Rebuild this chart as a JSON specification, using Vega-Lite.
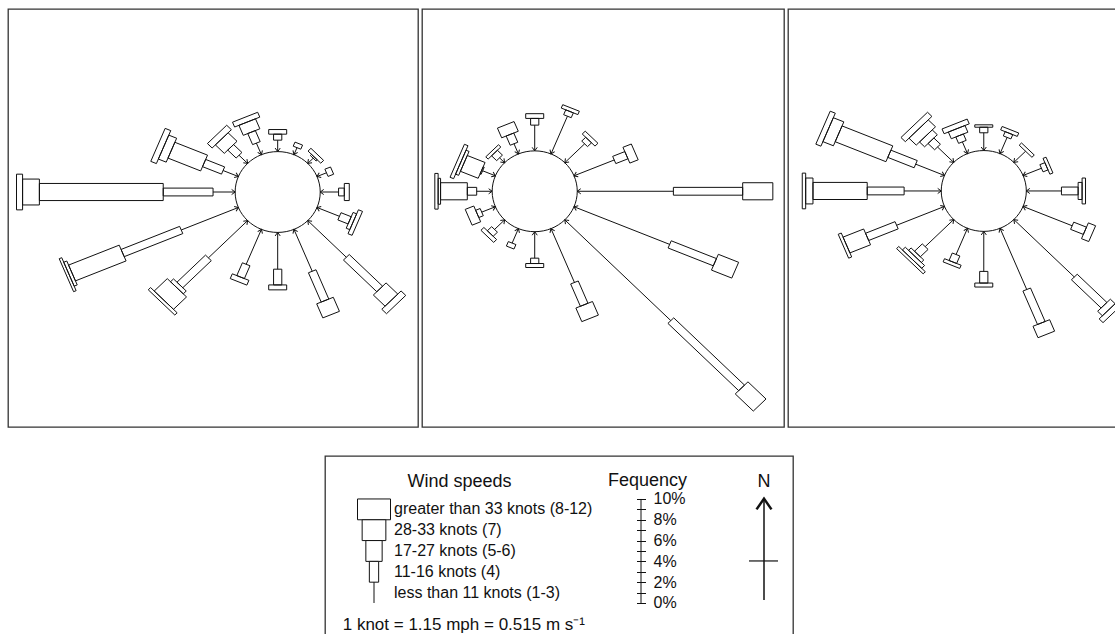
{
  "$schema": "https://vega.github.io/schema/vega-lite/v6.json",
  "padding": {"left": 7, "top": 8, "right": 0, "bottom": 0},
  "config": {"view": {"stroke": "#333", "strokeWidth": 1.3}, "font": "Liberation Sans", "text": {"font": "Liberation Sans", "color": "black"}},
  "datasets": {
    "arms": [
      {"p":1,"d":0,"c":1,"f":1.09},{"p":1,"d":0,"c":2,"f":0.57},{"p":1,"d":0,"c":3,"f":0.44},
      {"p":1,"d":1,"c":1,"f":0.72},{"p":1,"d":1,"c":2,"f":0.42},
      {"p":1,"d":2,"c":1,"f":0.7},{"p":1,"d":2,"c":2,"f":0.15},{"p":1,"d":2,"c":3,"f":0.37},
      {"p":1,"d":3,"c":1,"f":0.93},{"p":1,"d":3,"c":2,"f":0.55},
      {"p":1,"d":4,"c":1,"f":1.66},{"p":1,"d":4,"c":2,"f":0.52},{"p":1,"d":4,"c":3,"f":0.45},
      {"p":1,"d":5,"c":1,"f":2.2},{"p":1,"d":5,"c":2,"f":1.0},{"p":1,"d":5,"c":3,"f":0.35},{"p":1,"d":5,"c":4,"f":0.4},
      {"p":1,"d":6,"c":1,"f":4.94},{"p":1,"d":6,"c":2,"f":4.27},{"p":1,"d":6,"c":3,"f":1.5},{"p":1,"d":6,"c":4,"f":0.6},
      {"p":1,"d":7,"c":1,"f":4.32},{"p":1,"d":7,"c":2,"f":3.02},{"p":1,"d":7,"c":3,"f":1.45},
      {"p":1,"d":8,"c":1,"f":3.5},{"p":1,"d":8,"c":2,"f":1.5},{"p":1,"d":8,"c":3,"f":0.47},
      {"p":1,"d":9,"c":1,"f":3.6},{"p":1,"d":9,"c":2,"f":1.32},{"p":1,"d":9,"c":3,"f":0.49},
      {"p":1,"d":10,"c":1,"f":5.02},{"p":1,"d":10,"c":2,"f":3.65},{"p":1,"d":10,"c":3,"f":0.38},{"p":1,"d":10,"c":4,"f":1.67},{"p":1,"d":10,"c":5,"f":0.3},
      {"p":1,"d":11,"c":1,"f":5.6},{"p":1,"d":11,"c":2,"f":5.74},{"p":1,"d":11,"c":3,"f":4.96},{"p":1,"d":11,"c":4,"f":0.3},{"p":1,"d":11,"c":5,"f":0.25},
      {"p":1,"d":12,"c":1,"f":2.0},{"p":1,"d":12,"c":2,"f":4.51},{"p":1,"d":12,"c":3,"f":11.21},{"p":1,"d":12,"c":4,"f":1.52},{"p":1,"d":12,"c":5,"f":0.55},
      {"p":1,"d":13,"c":1,"f":1.5},{"p":1,"d":13,"c":2,"f":1.86},{"p":1,"d":13,"c":3,"f":3.2},{"p":1,"d":13,"c":4,"f":0.77},{"p":1,"d":13,"c":5,"f":0.55},
      {"p":1,"d":14,"c":1,"f":1.1},{"p":1,"d":14,"c":2,"f":1.07},{"p":1,"d":14,"c":3,"f":1.14},{"p":1,"d":14,"c":4,"f":0.6},
      {"p":1,"d":15,"c":1,"f":1.19},{"p":1,"d":15,"c":2,"f":1.14},{"p":1,"d":15,"c":3,"f":1.03},{"p":1,"d":15,"c":4,"f":0.5},

      {"p":2,"d":0,"c":1,"f":2.45},{"p":2,"d":0,"c":2,"f":0.64},{"p":2,"d":0,"c":3,"f":0.45},
      {"p":2,"d":1,"c":1,"f":3.89},{"p":2,"d":1,"c":2,"f":0.5},{"p":2,"d":1,"c":3,"f":0.35},
      {"p":2,"d":2,"c":1,"f":2.54},{"p":2,"d":2,"c":2,"f":0.51},{"p":2,"d":2,"c":3,"f":0.38},
      {"p":2,"d":3,"c":1,"f":3.94},{"p":2,"d":3,"c":2,"f":1.19},{"p":2,"d":3,"c":3,"f":0.82},
      {"p":2,"d":4,"c":1,"f":8.7},{"p":2,"d":4,"c":2,"f":6.27},{"p":2,"d":4,"c":3,"f":2.73},
      {"p":2,"d":5,"c":1,"f":9.37},{"p":2,"d":5,"c":2,"f":4.43},{"p":2,"d":5,"c":3,"f":1.99},
      {"p":2,"d":6,"c":1,"f":13.57},{"p":2,"d":6,"c":2,"f":9.06},{"p":2,"d":6,"c":3,"f":2.31},
      {"p":2,"d":7,"c":1,"f":5.55},{"p":2,"d":7,"c":2,"f":2.3},{"p":2,"d":7,"c":3,"f":1.4},
      {"p":2,"d":8,"c":1,"f":2.52},{"p":2,"d":8,"c":2,"f":0.51},{"p":2,"d":8,"c":3,"f":0.38},
      {"p":2,"d":9,"c":1,"f":1.49},{"p":2,"d":9,"c":2,"f":0.46},
      {"p":2,"d":10,"c":1,"f":1.29},{"p":2,"d":10,"c":2,"f":0.55},{"p":2,"d":10,"c":3,"f":0.38},
      {"p":2,"d":11,"c":1,"f":1.34},{"p":2,"d":11,"c":2,"f":0.44},{"p":2,"d":11,"c":3,"f":0.84},
      {"p":2,"d":12,"c":1,"f":1.4},{"p":2,"d":12,"c":2,"f":0.85},{"p":2,"d":12,"c":3,"f":2.42},{"p":2,"d":12,"c":4,"f":0.22},{"p":2,"d":12,"c":5,"f":0.3},
      {"p":2,"d":13,"c":1,"f":1.25},{"p":2,"d":13,"c":2,"f":0.1},{"p":2,"d":13,"c":3,"f":1.74},{"p":2,"d":13,"c":4,"f":0.3},{"p":2,"d":13,"c":5,"f":0.35},
      {"p":2,"d":14,"c":1,"f":0.65},{"p":2,"d":14,"c":2,"f":0.65},{"p":2,"d":14,"c":3,"f":0.3},
      {"p":2,"d":15,"c":1,"f":1.05},{"p":2,"d":15,"c":2,"f":0.95},{"p":2,"d":15,"c":3,"f":1.0},

      {"p":3,"d":0,"c":1,"f":1.69},{"p":3,"d":0,"c":2,"f":0.53},{"p":3,"d":0,"c":3,"f":0.23},
      {"p":3,"d":1,"c":1,"f":1.67},{"p":3,"d":1,"c":2,"f":0.44},{"p":3,"d":1,"c":3,"f":0.35},
      {"p":3,"d":2,"c":1,"f":1.5},{"p":3,"d":2,"c":3,"f":0.3},
      {"p":3,"d":3,"c":1,"f":1.8},{"p":3,"d":3,"c":2,"f":0.49},{"p":3,"d":3,"c":3,"f":0.3},
      {"p":3,"d":4,"c":1,"f":3.18},{"p":3,"d":4,"c":2,"f":1.51},{"p":3,"d":4,"c":3,"f":0.36},{"p":3,"d":4,"c":4,"f":0.31},
      {"p":3,"d":5,"c":1,"f":4.81},{"p":3,"d":5,"c":2,"f":1.25},{"p":3,"d":5,"c":3,"f":0.71},
      {"p":3,"d":6,"c":1,"f":7.74},{"p":3,"d":6,"c":2,"f":3.8},{"p":3,"d":6,"c":3,"f":0.61},{"p":3,"d":6,"c":4,"f":0.5},
      {"p":3,"d":7,"c":1,"f":6.31},{"p":3,"d":7,"c":2,"f":3.45},{"p":3,"d":7,"c":3,"f":1.18},
      {"p":3,"d":8,"c":1,"f":3.81},{"p":3,"d":8,"c":2,"f":1.11},{"p":3,"d":8,"c":3,"f":0.38},
      {"p":3,"d":9,"c":1,"f":2.7},{"p":3,"d":9,"c":2,"f":0.77},{"p":3,"d":9,"c":3,"f":0.33},
      {"p":3,"d":10,"c":1,"f":3.65},{"p":3,"d":10,"c":2,"f":0.99},{"p":3,"d":10,"c":3,"f":0.32},{"p":3,"d":10,"c":4,"f":0.37},{"p":3,"d":10,"c":5,"f":0.28},
      {"p":3,"d":11,"c":1,"f":4.69},{"p":3,"d":11,"c":2,"f":2.89},{"p":3,"d":11,"c":3,"f":2.02},{"p":3,"d":11,"c":4,"f":0.3},
      {"p":3,"d":12,"c":1,"f":3.36},{"p":3,"d":12,"c":2,"f":3.34},{"p":3,"d":12,"c":3,"f":4.91},{"p":3,"d":12,"c":4,"f":0.66},{"p":3,"d":12,"c":5,"f":0.31},
      {"p":3,"d":13,"c":1,"f":2.82},{"p":3,"d":13,"c":2,"f":2.58},{"p":3,"d":13,"c":3,"f":4.97},{"p":3,"d":13,"c":4,"f":1.03},{"p":3,"d":13,"c":5,"f":0.5},
      {"p":3,"d":14,"c":1,"f":2.07},{"p":3,"d":14,"c":2,"f":0.84},{"p":3,"d":14,"c":3,"f":0.65},{"p":3,"d":14,"c":4,"f":0.93},{"p":3,"d":14,"c":5,"f":0.56},
      {"p":3,"d":15,"c":1,"f":1.21},{"p":3,"d":15,"c":2,"f":0.66},{"p":3,"d":15,"c":3,"f":0.69},{"p":3,"d":15,"c":4,"f":0.49}
    ],
    "classes": [
      {"cls": 5, "label": "greater than 33 knots (8-12)"},
      {"cls": 4, "label": "28-33 knots (7)"},
      {"cls": 3, "label": "17-27 knots (5-6)"},
      {"cls": 2, "label": "11-16 knots (4)"},
      {"cls": 1, "label": "less than 11 knots (1-3)"}
    ]
  },
  "spacing": 27,
  "vconcat": [
    {
      "spacing": 2,
      "hconcat": [
        {
          "width": 410, "height": 418,
          "data": {"name": "arms"},
          "transform": [
            {"filter": "datum.p == 1"},
            {"window": [{"op": "sum", "field": "f", "as": "cum"}], "groupby": ["d"], "sort": [{"field": "c"}], "frame": [null, 0]},
            {"calculate": "datum.d * PI / 8", "as": "th"},
            {"calculate": "3.85 + datum.cum - datum.f", "as": "a0"},
            {"calculate": "3.85 + datum.cum", "as": "a1"}
          ],
          "encoding": {
            "x": {"field": "X", "type": "quantitative", "scale": {"domain": [-24.41, 12.70], "nice": false, "zero": false}, "axis": null},
            "y": {"field": "Y", "type": "quantitative", "scale": {"domain": [-22.38, 17.43], "nice": false, "zero": false}, "axis": null}
          },
          "layer": [
            {
              "transform": [
                {"filter": "datum.c >= 2"},
                {"calculate": "[0,0,0.372,0.814,1.233,1.7][datum.c]", "as": "h"},
                {"calculate": "[0,1,2,3]", "as": "ks"},
                {"flatten": ["ks"]},
                {"calculate": "(datum.ks == 1 || datum.ks == 2) ? datum.a1 : datum.a0", "as": "al"},
                {"calculate": "datum.ks >= 2 ? -datum.h : datum.h", "as": "sd"},
                {"calculate": "datum.al * sin(datum.th) + datum.sd * cos(datum.th)", "as": "X"},
                {"calculate": "datum.al * cos(datum.th) - datum.sd * sin(datum.th)", "as": "Y"}
              ],
              "mark": {"type": "line", "interpolate": "linear-closed", "stroke": "#111", "strokeWidth": 1, "strokeJoin": "miter"},
              "encoding": {"detail": [{"field": "d", "type": "nominal"}, {"field": "c", "type": "nominal"}], "order": {"field": "ks", "type": "quantitative"}}
            },
            {
              "transform": [
                {"filter": "datum.c == 1"},
                {"calculate": "3.85 * sin(datum.th)", "as": "X"},
                {"calculate": "3.85 * cos(datum.th)", "as": "Y"},
                {"calculate": "datum.a1 * sin(datum.th)", "as": "X2"},
                {"calculate": "datum.a1 * cos(datum.th)", "as": "Y2"}
              ],
              "mark": {"type": "rule", "stroke": "#111", "strokeWidth": 1},
              "encoding": {"x2": {"field": "X2"}, "y2": {"field": "Y2"}}
            },
            {
              "transform": [
                {"filter": "datum.c == 1"},
                {"calculate": "3.85 * sin(datum.th)", "as": "X"},
                {"calculate": "3.85 * cos(datum.th)", "as": "Y"},
                {"calculate": "datum.d * 22.5", "as": "deg"}
              ],
              "mark": {"type": "point", "shape": "M-0.8,-1.1L0,0L0.8,-1.1", "size": 41, "filled": false, "stroke": "#111", "strokeWidth": 1, "opacity": 1},
              "encoding": {"angle": {"field": "deg", "type": "quantitative", "scale": null}}
            },
            {
              "transform": [
                {"filter": "datum.c == 1 && datum.d == 0"},
                {"calculate": "0", "as": "X"},
                {"calculate": "0", "as": "Y"}
              ],
              "mark": {"type": "point", "shape": "M1,0C1,0.5247,0.5523,0.95,0,0.95C-0.5523,0.95,-1,0.5247,-1,0C-1,-0.5247,-0.5523,-0.95,0,-0.95C0.5523,-0.95,1,-0.5247,1,0Z", "size": 7239, "filled": false, "stroke": "#111", "strokeWidth": 1, "opacity": 1}
            }
          ]
        },
        {
          "width": 362, "height": 418,
          "data": {"name": "arms"},
          "transform": [
            {"filter": "datum.p == 2"},
            {"window": [{"op": "sum", "field": "f", "as": "cum"}], "groupby": ["d"], "sort": [{"field": "c"}], "frame": [null, 0]},
            {"calculate": "datum.d * PI / 8", "as": "th"},
            {"calculate": "3.85 + datum.cum - datum.f", "as": "a0"},
            {"calculate": "3.85 + datum.cum", "as": "a1"}
          ],
          "encoding": {
            "x": {"field": "X", "type": "quantitative", "scale": {"domain": [-10.20, 22.56], "nice": false, "zero": false}, "axis": null},
            "y": {"field": "Y", "type": "quantitative", "scale": {"domain": [-22.45, 17.36], "nice": false, "zero": false}, "axis": null}
          },
          "layer": [
            {
              "transform": [
                {"filter": "datum.c >= 2"},
                {"calculate": "[0,0,0.372,0.814,1.233,1.7][datum.c]", "as": "h"},
                {"calculate": "[0,1,2,3]", "as": "ks"},
                {"flatten": ["ks"]},
                {"calculate": "(datum.ks == 1 || datum.ks == 2) ? datum.a1 : datum.a0", "as": "al"},
                {"calculate": "datum.ks >= 2 ? -datum.h : datum.h", "as": "sd"},
                {"calculate": "datum.al * sin(datum.th) + datum.sd * cos(datum.th)", "as": "X"},
                {"calculate": "datum.al * cos(datum.th) - datum.sd * sin(datum.th)", "as": "Y"}
              ],
              "mark": {"type": "line", "interpolate": "linear-closed", "stroke": "#111", "strokeWidth": 1, "strokeJoin": "miter"},
              "encoding": {"detail": [{"field": "d", "type": "nominal"}, {"field": "c", "type": "nominal"}], "order": {"field": "ks", "type": "quantitative"}}
            },
            {
              "transform": [
                {"filter": "datum.c == 1"},
                {"calculate": "3.85 * sin(datum.th)", "as": "X"},
                {"calculate": "3.85 * cos(datum.th)", "as": "Y"},
                {"calculate": "datum.a1 * sin(datum.th)", "as": "X2"},
                {"calculate": "datum.a1 * cos(datum.th)", "as": "Y2"}
              ],
              "mark": {"type": "rule", "stroke": "#111", "strokeWidth": 1},
              "encoding": {"x2": {"field": "X2"}, "y2": {"field": "Y2"}}
            },
            {
              "transform": [
                {"filter": "datum.c == 1"},
                {"calculate": "3.85 * sin(datum.th)", "as": "X"},
                {"calculate": "3.85 * cos(datum.th)", "as": "Y"},
                {"calculate": "datum.d * 22.5", "as": "deg"}
              ],
              "mark": {"type": "point", "shape": "M-0.8,-1.1L0,0L0.8,-1.1", "size": 41, "filled": false, "stroke": "#111", "strokeWidth": 1, "opacity": 1},
              "encoding": {"angle": {"field": "deg", "type": "quantitative", "scale": null}}
            },
            {
              "transform": [
                {"filter": "datum.c == 1 && datum.d == 0"},
                {"calculate": "0", "as": "X"},
                {"calculate": "0", "as": "Y"}
              ],
              "mark": {"type": "point", "shape": "M1,0C1,0.5247,0.5523,0.95,0,0.95C-0.5523,0.95,-1,0.5247,-1,0C-1,-0.5247,-0.5523,-0.95,0,-0.95C0.5523,-0.95,1,-0.5247,1,0Z", "size": 7239, "filled": false, "stroke": "#111", "strokeWidth": 1, "opacity": 1}
            }
          ]
        },
        {
          "width": 332, "height": 418,
          "data": {"name": "arms"},
          "transform": [
            {"filter": "datum.p == 3"},
            {"window": [{"op": "sum", "field": "f", "as": "cum"}], "groupby": ["d"], "sort": [{"field": "c"}], "frame": [null, 0]},
            {"calculate": "datum.d * PI / 8", "as": "th"},
            {"calculate": "3.85 + datum.cum - datum.f", "as": "a0"},
            {"calculate": "3.85 + datum.cum", "as": "a1"}
          ],
          "encoding": {
            "x": {"field": "X", "type": "quantitative", "scale": {"domain": [-17.72, 12.33], "nice": false, "zero": false}, "axis": null},
            "y": {"field": "Y", "type": "quantitative", "scale": {"domain": [-22.48, 17.33], "nice": false, "zero": false}, "axis": null}
          },
          "layer": [
            {
              "transform": [
                {"filter": "datum.c >= 2"},
                {"calculate": "[0,0,0.372,0.814,1.233,1.7][datum.c]", "as": "h"},
                {"calculate": "[0,1,2,3]", "as": "ks"},
                {"flatten": ["ks"]},
                {"calculate": "(datum.ks == 1 || datum.ks == 2) ? datum.a1 : datum.a0", "as": "al"},
                {"calculate": "datum.ks >= 2 ? -datum.h : datum.h", "as": "sd"},
                {"calculate": "datum.al * sin(datum.th) + datum.sd * cos(datum.th)", "as": "X"},
                {"calculate": "datum.al * cos(datum.th) - datum.sd * sin(datum.th)", "as": "Y"}
              ],
              "mark": {"type": "line", "interpolate": "linear-closed", "stroke": "#111", "strokeWidth": 1, "strokeJoin": "miter"},
              "encoding": {"detail": [{"field": "d", "type": "nominal"}, {"field": "c", "type": "nominal"}], "order": {"field": "ks", "type": "quantitative"}}
            },
            {
              "transform": [
                {"filter": "datum.c == 1"},
                {"calculate": "3.85 * sin(datum.th)", "as": "X"},
                {"calculate": "3.85 * cos(datum.th)", "as": "Y"},
                {"calculate": "datum.a1 * sin(datum.th)", "as": "X2"},
                {"calculate": "datum.a1 * cos(datum.th)", "as": "Y2"}
              ],
              "mark": {"type": "rule", "stroke": "#111", "strokeWidth": 1},
              "encoding": {"x2": {"field": "X2"}, "y2": {"field": "Y2"}}
            },
            {
              "transform": [
                {"filter": "datum.c == 1"},
                {"calculate": "3.85 * sin(datum.th)", "as": "X"},
                {"calculate": "3.85 * cos(datum.th)", "as": "Y"},
                {"calculate": "datum.d * 22.5", "as": "deg"}
              ],
              "mark": {"type": "point", "shape": "M-0.8,-1.1L0,0L0.8,-1.1", "size": 41, "filled": false, "stroke": "#111", "strokeWidth": 1, "opacity": 1},
              "encoding": {"angle": {"field": "deg", "type": "quantitative", "scale": null}}
            },
            {
              "transform": [
                {"filter": "datum.c == 1 && datum.d == 0"},
                {"calculate": "0", "as": "X"},
                {"calculate": "0", "as": "Y"}
              ],
              "mark": {"type": "point", "shape": "M1,0C1,0.5247,0.5523,0.95,0,0.95C-0.5523,0.95,-1,0.5247,-1,0C-1,-0.5247,-0.5523,-0.95,0,-0.95C0.5523,-0.95,1,-0.5247,1,0Z", "size": 7239, "filled": false, "stroke": "#111", "strokeWidth": 1, "opacity": 1}
            }
          ]
        }
      ]
    },
    {
      "spacing": 0,
      "hconcat": [
        {
          "width": 316, "height": 20,
          "view": {"stroke": null},
          "data": {"values": [{}]},
          "mark": {"type": "point", "opacity": 0}
        },
        {
          "width": 468, "height": 181,
          "resolve": {"axis": {"y": "independent", "x": "independent"}},
          "layer": [
            {
              "data": {"values": [{}]},
              "mark": {"type": "rule", "stroke": "#111", "strokeWidth": 1},
              "encoding": {
                "x": {"datum": 316, "type": "quantitative", "scale": {"domain": [0, 468], "nice": false, "zero": false}, "axis": null},
                "y": {"datum": 0, "type": "quantitative", "scale": {"domain": [-3.27, 14.13], "nice": false, "zero": false},
                  "axis": {"orient": "right", "offset": -156.5, "values": [0,1,2,3,4,5,6,7,8,9,10], "domain": false, "grid": false,
                    "ticks": true, "tickSize": 9, "tickColor": "#111", "tickWidth": 1,
                    "labelExpr": "datum.value % 2 === 0 ? datum.value + '%' : ''", "labelFont": "Liberation Sans", "labelFontSize": 16, "labelColor": "#111",
                    "labelPadding": 7.5, "labelFlush": false, "labelOverlap": false, "labelBaseline": "middle",
                    "title": "Fequency", "titleAngle": 0, "titleX": 10.5, "titleY": 24, "titleAlign": "center", "titleBaseline": "middle",
                    "titleFont": "Liberation Sans", "titleFontSize": 18, "titleFontWeight": "normal", "titleColor": "#111"}},
                "y2": {"datum": 10}
              }
            },
            {
              "data": {"name": "classes"},
              "transform": [
                {"filter": "datum.cls >= 2"},
                {"calculate": "[0,0,4.65,8.15,11.85,16.5][datum.cls]", "as": "hw"},
                {"calculate": "49 - datum.hw", "as": "xl"},
                {"calculate": "49 + datum.hw", "as": "xr"},
                {"calculate": "datum.cls * 2", "as": "hi"},
                {"calculate": "datum.cls * 2 - 2", "as": "lo"}
              ],
              "mark": {"type": "rect", "fill": "white", "stroke": "#111", "strokeWidth": 1},
              "encoding": {
                "x": {"field": "xl", "type": "quantitative", "scale": {"domain": [0, 468], "nice": false, "zero": false}, "axis": null},
                "x2": {"field": "xr"},
                "y": {"field": "hi", "type": "quantitative", "scale": {"domain": [-3.27, 14.13], "nice": false, "zero": false}, "axis": null},
                "y2": {"field": "lo"}
              }
            },
            {
              "data": {"name": "classes"},
              "transform": [
                {"filter": "datum.cls == 1"},
                {"calculate": "datum.cls * 2", "as": "hi"},
                {"calculate": "datum.cls * 2 - 2", "as": "lo"}
              ],
              "mark": {"type": "rule", "stroke": "#111", "strokeWidth": 1},
              "encoding": {
                "x": {"datum": 49, "type": "quantitative", "scale": {"domain": [0, 468], "nice": false, "zero": false}, "axis": null},
                "y": {"field": "lo", "type": "quantitative", "scale": {"domain": [-3.27, 14.13], "nice": false, "zero": false}, "axis": null},
                "y2": {"field": "hi"}
              }
            },
            {
              "data": {"name": "classes"},
              "transform": [{"calculate": "datum.cls * 2 - 1", "as": "mid"}],
              "mark": {"type": "text", "align": "left", "baseline": "middle", "fontSize": 16, "font": "Liberation Sans", "color": "#111"},
              "encoding": {
                "x": {"datum": 69, "type": "quantitative", "scale": {"domain": [0, 468], "nice": false, "zero": false}, "axis": null},
                "y": {"field": "mid", "type": "quantitative", "scale": {"domain": [-3.27, 14.13], "nice": false, "zero": false}, "axis": null},
                "text": {"field": "label"}
              }
            },
            {
              "data": {"values": [{}]},
              "mark": {"type": "text", "text": "Wind speeds", "align": "center", "baseline": "middle", "fontSize": 18, "font": "Liberation Sans", "color": "#111"},
              "encoding": {
                "x": {"datum": 134.5, "type": "quantitative", "scale": {"domain": [0, 468], "nice": false, "zero": false}, "axis": null},
                "y": {"datum": 11.6, "type": "quantitative", "scale": {"domain": [-3.27, 14.13], "nice": false, "zero": false}, "axis": null}
              }
            },
            {
              "data": {"values": [{}]},
              "mark": {"type": "text", "text": "1 knot = 1.15 mph = 0.515 m s⁻¹", "align": "left", "baseline": "middle", "fontSize": 17, "font": "Liberation Sans", "color": "#111"},
              "encoding": {
                "x": {"datum": 17.7, "type": "quantitative", "scale": {"domain": [0, 468], "nice": false, "zero": false}, "axis": null},
                "y": {"datum": -2.12, "type": "quantitative", "scale": {"domain": [-3.27, 14.13], "nice": false, "zero": false}, "axis": null}
              }
            },
            {
              "data": {"values": [{}]},
              "mark": {"type": "text", "text": "N", "align": "center", "baseline": "middle", "fontSize": 18, "font": "Liberation Sans", "color": "#111"},
              "encoding": {
                "x": {"datum": 439, "type": "quantitative", "scale": {"domain": [0, 468], "nice": false, "zero": false}, "axis": null},
                "y": {"datum": 11.6, "type": "quantitative", "scale": {"domain": [-3.27, 14.13], "nice": false, "zero": false}, "axis": null}
              }
            },
            {
              "data": {"values": [{}]},
              "mark": {"type": "rule", "stroke": "#111", "strokeWidth": 1.5},
              "encoding": {
                "x": {"datum": 439, "type": "quantitative", "scale": {"domain": [0, 468], "nice": false, "zero": false}, "axis": null},
                "y": {"datum": 0.29, "type": "quantitative", "scale": {"domain": [-3.27, 14.13], "nice": false, "zero": false}, "axis": null},
                "y2": {"datum": 10.03}
              }
            },
            {
              "data": {"values": [{}]},
              "mark": {"type": "rule", "stroke": "#111", "strokeWidth": 1.2},
              "encoding": {
                "x": {"datum": 424, "type": "quantitative", "scale": {"domain": [0, 468], "nice": false, "zero": false}, "axis": null},
                "x2": {"datum": 453},
                "y": {"datum": 4.04, "type": "quantitative", "scale": {"domain": [-3.27, 14.13], "nice": false, "zero": false}, "axis": null}
              }
            },
            {
              "data": {"values": [{}]},
              "mark": {"type": "point", "shape": "M-0.7,1L0,0L0.7,1", "size": 458, "filled": false, "stroke": "#111", "strokeWidth": 2.5, "opacity": 1},
              "encoding": {
                "x": {"datum": 439, "type": "quantitative", "scale": {"domain": [0, 468], "nice": false, "zero": false}, "axis": null},
                "y": {"datum": 10.03, "type": "quantitative", "scale": {"domain": [-3.27, 14.13], "nice": false, "zero": false}, "axis": null}
              }
            }
          ]
        }
      ]
    }
  ]
}
